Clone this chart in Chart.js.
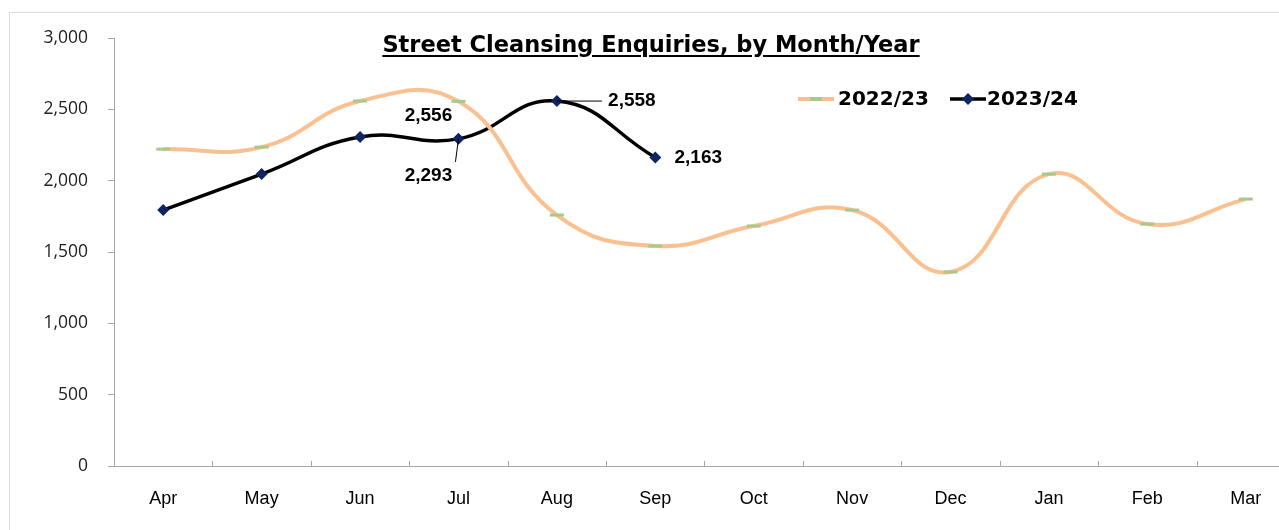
<!DOCTYPE html>
<html>
<head>
<meta charset="utf-8">
<script src="https://cdn.jsdelivr.net/npm/chart.js@4"></script>
<style>
  html, body { margin: 0; padding: 0; background: #fff; overflow: hidden; }
  body { width: 1279px; height: 530px; position: relative; }
  #frame { position: absolute; left: 9px; top: 12px; width: 1320px; height: 560px; border: 1px solid #d9d9d9; }
  #wrap { position: absolute; left: 0; top: 0; width: 1305px; height: 530px; }
  #title {
    position: absolute; left: 0; width: 1302px; top: 31px; text-align: center;
    font: bold 22.5px "DejaVu Sans", sans-serif; color: #000;
  }
  #title span { text-decoration: underline; text-underline-offset: 3px; }
  .leg { position: absolute; top: 86px; font: bold 20px "DejaVu Sans", sans-serif; color: #000; }
</style>
</head>
<body>
<div id="frame"></div>
<div id="wrap"><canvas id="chart" width="1305" height="530"></canvas></div>
<div id="title"><span>Street Cleansing Enquiries, by Month/Year</span></div>
<div class="leg" style="left:838px">2022/23</div>
<div class="leg" style="left:987px">2023/24</div>
<script>
const months = ["Apr", "May", "Jun", "Jul", "Aug", "Sep", "Oct", "Nov", "Dec", "Jan", "Feb", "Mar"];
const enquiries2223 = [2221, 2235, 2558, 2556, 1759, 1542, 1682, 1794, 1360, 2046, 1696, 1871];
const enquiries2324 = [1794, 2046, 2306, 2293, 2558, 2163];
const yTicks = [0, 500, 1000, 1500, 2000, 2500, 3000];

const fmt = v => v.toLocaleString("en-GB");

// which points carry a value label: [datasetIndex, pointIndex, dx, dy, leader]
const pointLabels = [
    [0, 3, -30, 14, false],
    [1, 3, -30, 37, true],
    [1, 4, 75, 0, true],
    [1, 5, 43, 0, false]
];

const labelPlugin = {
    id: "pointLabels",
    afterDatasetsDraw(chart) {
        const c = chart.ctx;
        c.save();
        c.font = "bold 19px 'Liberation Sans', Arial, sans-serif";
        c.fillStyle = "#000";
        c.textAlign = "center";
        c.textBaseline = "middle";
        pointLabels.forEach(([ds, i, dx, dy, leader]) => {
            const pt = chart.getDatasetMeta(ds).data[i];
            const val = chart.data.datasets[ds].data[i];
            if (leader) {
                c.strokeStyle = "#000";
                c.lineWidth = 1;
                c.beginPath();
                c.moveTo(pt.x, pt.y);
                if (dy === 0) c.lineTo(pt.x + dx - 30, pt.y);
                else c.lineTo(pt.x - 3, pt.y + dy - 14);
                c.stroke();
            }
            c.fillText(fmt(val), pt.x + dx, pt.y + dy);
        });
        c.restore();
    }
};

// small inward tick marks on the category axis + legend samples
const extrasPlugin = {
    id: "extras",
    afterDraw(chart) {
        const c = chart.ctx;
        const x = chart.scales.x;
        const bottom = chart.chartArea.bottom;
        c.save();
        c.strokeStyle = "#a6a6a6";
        c.lineWidth = 1;
        for (let i = 1; i < months.length; i++) {
            const px = Math.round(x.getPixelForValue(i) - (x.getPixelForValue(1) - x.getPixelForValue(0)) / 2) + 0.5;
            c.beginPath();
            c.moveTo(px, bottom);
            c.lineTo(px, bottom - 5);
            c.stroke();
        }
        // legend samples
        const ly = 99;
        c.lineWidth = 4;
        c.strokeStyle = "#fac090";
        c.beginPath(); c.moveTo(798, ly); c.lineTo(834, ly); c.stroke();
        c.strokeStyle = "#a9c98a";
        c.beginPath(); c.moveTo(810, ly); c.lineTo(822, ly); c.stroke();
        c.strokeStyle = "#000";
        c.lineWidth = 3.5;
        c.beginPath(); c.moveTo(950, ly); c.lineTo(986, ly); c.stroke();
        c.fillStyle = "#0f2461";
        c.beginPath();
        c.moveTo(968, ly - 6); c.lineTo(974, ly); c.lineTo(968, ly + 6); c.lineTo(962, ly);
        c.closePath(); c.fill();
        c.restore();
    }
};

new Chart(document.getElementById("chart"), {
    type: "line",
    data: {
        labels: months,
        datasets: [
            {
                label: "2022/23",
                data: enquiries2223,
                borderColor: "#fac090",
                borderWidth: 4,
                tension: 0.45,
                pointStyle: "line",
                pointRadius: 7,
                pointBorderWidth: 3,
                pointBorderColor: "#a9c98a",
                pointBackgroundColor: "#a9c98a"
            },
            {
                label: "2023/24",
                data: enquiries2324,
                borderColor: "#000",
                borderWidth: 3.5,
                tension: 0.45,
                pointStyle: "rectRot",
                pointRadius: 6,
                pointBorderWidth: 0,
                pointBackgroundColor: "#0f2461"
            }
        ]
    },
    options: {
        responsive: false,
        animation: false,
        layout: { padding: { left: 0, right: 0, top: 38, bottom: 0 } },
        plugins: {
            legend: { display: false },
            title: { display: false },
            tooltip: { enabled: false }
        },
        scales: {
            x: {
                offset: true,
                grid: { display: false },
                border: { display: true, color: "#a6a6a6", width: 1 },
                ticks: {
                    color: "#000",
                    padding: 14,
                    maxRotation: 0,
                    font: { family: "'Liberation Sans', Arial, sans-serif", size: 18 }
                },
                afterFit(s) { s.height = 64; }
            },
            y: {
                min: 0,
                max: 3000,
                afterBuildTicks(s) { s.ticks = yTicks.map(v => ({ value: v })); },
                grid: { drawOnChartArea: false, drawTicks: true, tickLength: 6, color: "#a6a6a6" },
                border: { display: true, color: "#a6a6a6", width: 1 },
                ticks: {
                    color: "#222",
                    padding: 20,
                    callback: v => fmt(v),
                    font: { family: "'Open Sans', sans-serif", size: 17.5 }
                },
                afterFit(s) { s.width = 114; }
            }
        }
    },
    plugins: [labelPlugin, extrasPlugin]
});
</script>
</body>
</html>
